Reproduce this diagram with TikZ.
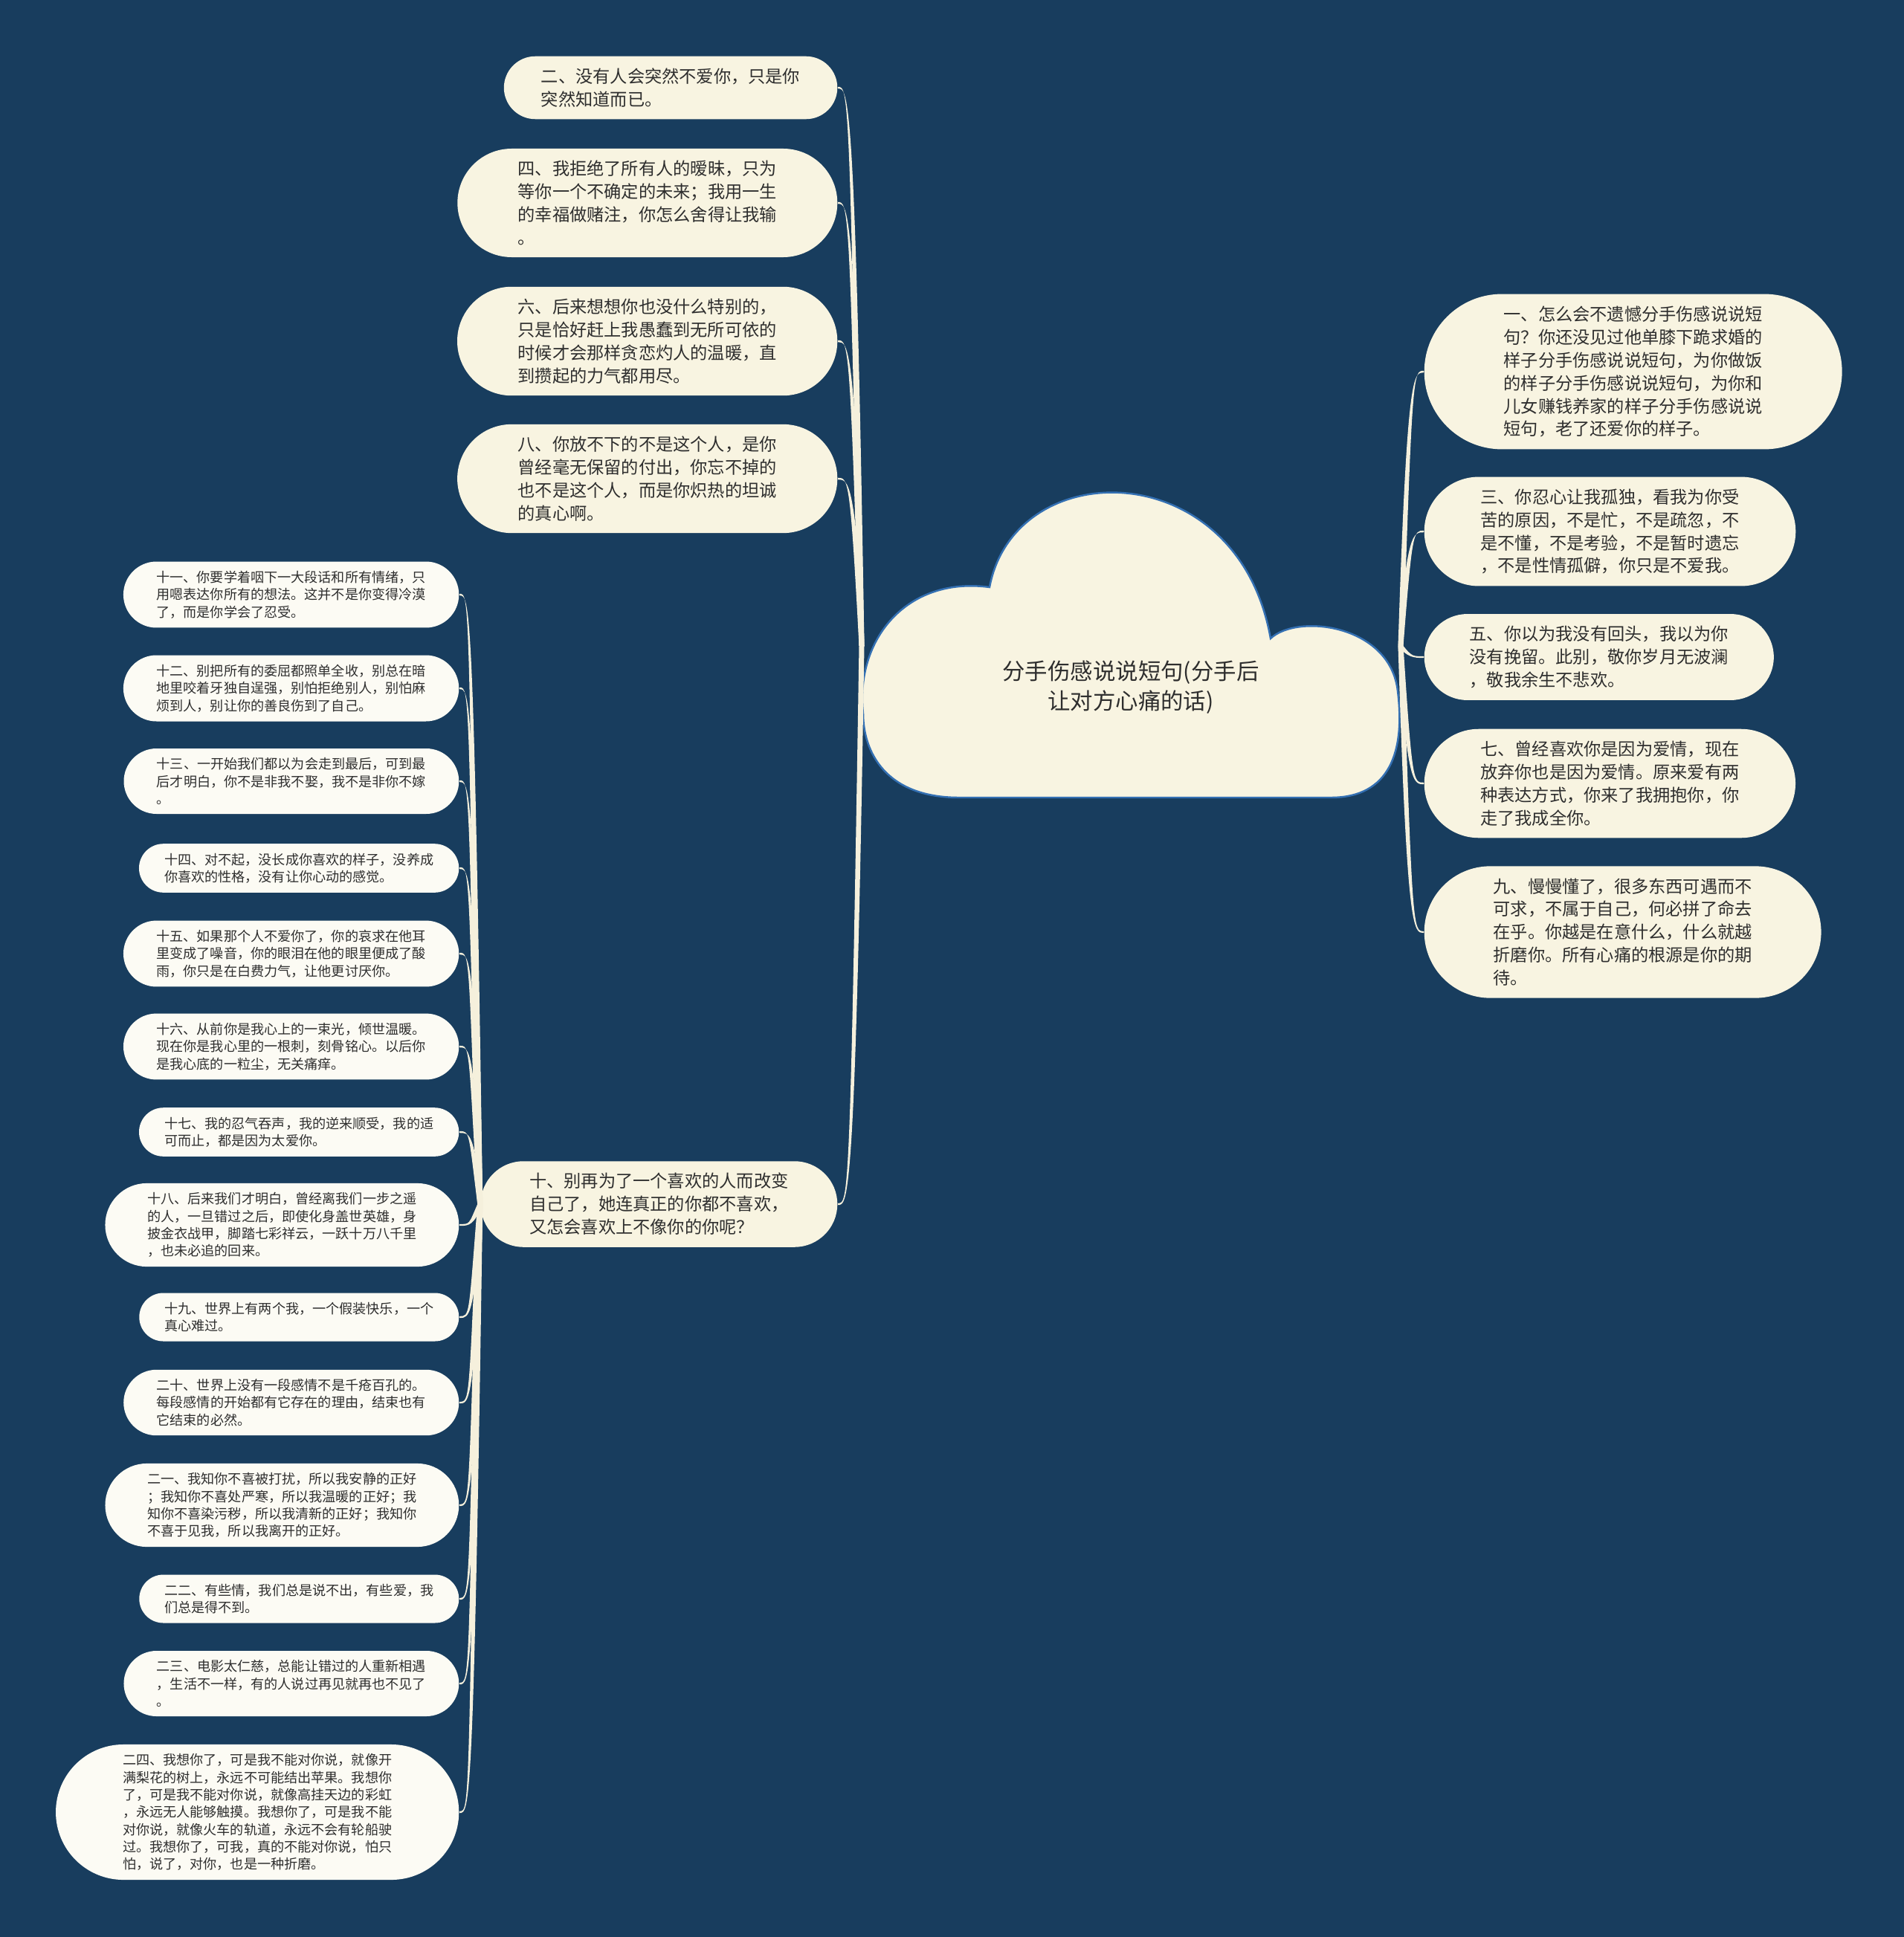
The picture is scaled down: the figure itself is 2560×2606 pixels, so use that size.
\documentclass[tikz,border=0pt]{standalone}
\usepackage{fontspec}
\newfontfamily\cjkfont{Noto Sans CJK SC}
\usetikzlibrary{calc,shapes.misc}

\begin{document}
\begin{tikzpicture}[x=0.01cm,y=-0.01cm,font=\cjkfont]
  \definecolor{night}{HTML}{183D5E}
  \definecolor{paper}{HTML}{F8F4E1}
  \definecolor{chalk}{HTML}{FCFBF4}
  \definecolor{thread}{HTML}{F5F0DC}
  \definecolor{rim}{HTML}{3470B3}
  \definecolor{ink}{HTML}{2E2E2E}
  \path[use as bounding box] (0,0) rectangle (2560,2606);
  \fill[night] (-8,-8) rectangle (2568,2614);

  \tikzset{topic/.style={rounded rectangle,fill=paper,text=ink,align=left,
             inner xsep=#1,inner ysep=0.16cm,font=\cjkfont\fontsize{6.6pt}{8.8pt}\selectfont},
           leaf/.style={rounded rectangle,fill=chalk,text=ink,align=left,
             inner xsep=#1,inner ysep=0.125cm,font=\cjkfont\fontsize{5.15pt}{6.63pt}\selectfont},
           % tapered ribbons: wide at the parent, thin at the child
           lbranch/.style={fill=thread,to path={-- ($(\tikztostart)+(-3.5,0)$)
             .. controls ($(\tikztostart |- \tikztotarget)+(-15.5,0)$) and ($(\tikztotarget)+(14,-1.2)$) .. ($(\tikztotarget)+(0,-1.2)$)
             -- ($(\tikztotarget)+(0,1.2)$)
             .. controls ($(\tikztotarget)+(14,1.2)$) and ($(\tikztostart |- \tikztotarget)+(-8.5,0)$) .. ($(\tikztostart)+(3.5,0)$) -- cycle}},
           rbranch/.style={fill=thread,to path={-- ($(\tikztostart)+(3.5,0)$)
             .. controls ($(\tikztostart |- \tikztotarget)+(15.5,0)$) and ($(\tikztotarget)+(-14,-1.2)$) .. ($(\tikztotarget)+(0,-1.2)$)
             -- ($(\tikztotarget)+(0,1.2)$)
             .. controls ($(\tikztotarget)+(-14,1.2)$) and ($(\tikztostart |- \tikztotarget)+(8.5,0)$) .. ($(\tikztostart)+(-3.5,0)$) -- cycle}}}

  % The cloud is drawn as one closed path, the title sits on top of it.
  \draw[fill=paper,draw=rim,line width=0.7pt] (1290,1073)
    .. controls (1190,1073) and (1161,1010) .. (1161,960)
    .. controls (1150,860) and (1220,775) .. (1331,790)
    .. controls (1365,610) and (1665,610) .. (1709,859)
    .. controls (1745,825) and (1870,840) .. (1880,930)
    .. controls (1890,1010) and (1870,1073) .. (1790,1073) -- cycle;
  \node[align=center,text=ink,font=\cjkfont\fontsize{8.65pt}{11.4pt}\selectfont] (root) at (1521,925)
    {分手伤感说说短句(分手后\\让对方心痛的话)};
  \coordinate (rootL) at (1159,869);
  \coordinate (rootR) at (1884,869);

  \node[topic=0.41cm,anchor=east] (l2) at (1127,118) {二、没有人会突然不爱你，只是你\\突然知道而已。};
  \node[topic=0.54cm,anchor=east] (l4) at (1127,273) {四、我拒绝了所有人的暧昧，只为\\等你一个不确定的未来；我用一生\\的幸福做赌注，你怎么舍得让我输\\。};
  \node[topic=0.54cm,anchor=east] (l6) at (1127,459) {六、后来想想你也没什么特别的，\\只是恰好赶上我愚蠢到无所可依的\\时候才会那样贪恋灼人的温暖，直\\到攒起的力气都用尽。};
  \node[topic=0.54cm,anchor=east] (l8) at (1127,644) {八、你放不下的不是这个人，是你\\曾经毫无保留的付出，你忘不掉的\\也不是这个人，而是你炽热的坦诚\\的真心啊。};
  \node[topic=0.48cm,anchor=east] (l10) at (1127,1620) {十、别再为了一个喜欢的人而改变\\自己了，她连真正的你都不喜欢，\\又怎会喜欢上不像你的你呢？};

  \node[topic=0.58cm,anchor=west] (r1) at (1915,500) {一、怎么会不遗憾分手伤感说说短\\句？你还没见过他单膝下跪求婚的\\样子分手伤感说说短句，为你做饭\\的样子分手伤感说说短句，为你和\\儿女赚钱养家的样子分手伤感说说\\短句，老了还爱你的样子。};
  \node[topic=0.48cm,anchor=west] (r3) at (1915,715) {三、你忍心让我孤独，看我为你受\\苦的原因，不是忙，不是疏忽，不\\是不懂，不是考验，不是暂时遗忘\\，不是性情孤僻，你只是不爱我。};
  \node[topic=0.43cm,anchor=west] (r5) at (1915,884) {五、你以为我没有回头，我以为你\\没有挽留。此别，敬你岁月无波澜\\，敬我余生不悲欢。};
  \node[topic=0.48cm,anchor=west] (r7) at (1915,1054) {七、曾经喜欢你是因为爱情，现在\\放弃你也是因为爱情。原来爱有两\\种表达方式，你来了我拥抱你，你\\走了我成全你。};
  \node[topic=0.55cm,anchor=west] (r9) at (1915,1254) {九、慢慢懂了，很多东西可遇而不\\可求，不属于自己，何必拼了命去\\在乎。你越是在意什么，什么就越\\折磨你。所有心痛的根源是你的期\\待。};

  \node[leaf=0.31cm,anchor=east] (c11) at (618,800) {十一、你要学着咽下一大段话和所有情绪，只\\用嗯表达你所有的想法。这并不是你变得冷漠\\了，而是你学会了忍受。};
  \node[leaf=0.31cm,anchor=east] (c12) at (618,926) {十二、别把所有的委屈都照单全收，别总在暗\\地里咬着牙独自逞强，别怕拒绝别人，别怕麻\\烦到人，别让你的善良伤到了自己。};
  \node[leaf=0.31cm,anchor=east] (c13) at (618,1051) {十三、一开始我们都以为会走到最后，可到最\\后才明白，你不是非我不娶，我不是非你不嫁\\。};
  \node[leaf=0.27cm,anchor=east] (c14) at (618,1168) {十四、对不起，没长成你喜欢的样子，没养成\\你喜欢的性格，没有让你心动的感觉。};
  \node[leaf=0.31cm,anchor=east] (c15) at (618,1283) {十五、如果那个人不爱你了，你的哀求在他耳\\里变成了噪音，你的眼泪在他的眼里便成了酸\\雨，你只是在白费力气，让他更讨厌你。};
  \node[leaf=0.31cm,anchor=east] (c16) at (618,1408) {十六、从前你是我心上的一束光，倾世温暖。\\现在你是我心里的一根刺，刻骨铭心。以后你\\是我心底的一粒尘，无关痛痒。};
  \node[leaf=0.27cm,anchor=east] (c17) at (618,1523) {十七、我的忍气吞声，我的逆来顺受，我的适\\可而止，都是因为太爱你。};
  \node[leaf=0.36cm,anchor=east] (c18) at (618,1648) {十八、后来我们才明白，曾经离我们一步之遥\\的人，一旦错过之后，即使化身盖世英雄，身\\披金衣战甲，脚踏七彩祥云，一跃十万八千里\\，也未必追的回来。};
  \node[leaf=0.27cm,anchor=east] (c19) at (618,1772) {十九、世界上有两个我，一个假装快乐，一个\\真心难过。};
  \node[leaf=0.31cm,anchor=east] (c20) at (618,1887) {二十、世界上没有一段感情不是千疮百孔的。\\每段感情的开始都有它存在的理由，结束也有\\它结束的必然。};
  \node[leaf=0.36cm,anchor=east] (c21) at (618,2025) {二一、我知你不喜被打扰，所以我安静的正好\\；我知你不喜处严寒，所以我温暖的正好；我\\知你不喜染污秽，所以我清新的正好；我知你\\不喜于见我，所以我离开的正好。};
  \node[leaf=0.27cm,anchor=east] (c22) at (618,2151) {二二、有些情，我们总是说不出，有些爱，我\\们总是得不到。};
  \node[leaf=0.31cm,anchor=east] (c23) at (618,2265) {二三、电影太仁慈，总能让错过的人重新相遇\\，生活不一样，有的人说过再见就再也不见了\\。};
  \node[leaf=0.45cm,anchor=east] (c24) at (618,2438) {二四、我想你了，可是我不能对你说，就像开\\满梨花的树上，永远不可能结出苹果。我想你\\了，可是我不能对你说，就像高挂天边的彩虹\\，永远无人能够触摸。我想你了，可是我不能\\对你说，就像火车的轨道，永远不会有轮船驶\\过。我想你了，可我，真的不能对你说，怕只\\怕，说了，对你，也是一种折磨。};

  \path[lbranch] (rootL) to (l2.east);
  \path[lbranch] (rootL) to (l4.east);
  \path[lbranch] (rootL) to (l6.east);
  \path[lbranch] (rootL) to (l8.east);
  \path[lbranch] (rootL) to (l10.east);
  \path[rbranch] (rootR) to (r1.west);
  \path[rbranch] (rootR) to (r3.west);
  \path[rbranch] (rootR) to (r5.west);
  \path[rbranch] (rootR) to (r7.west);
  \path[rbranch] (rootR) to (r9.west);
  \path[lbranch] (l10.west) to (c11.east);
  \path[lbranch] (l10.west) to (c12.east);
  \path[lbranch] (l10.west) to (c13.east);
  \path[lbranch] (l10.west) to (c14.east);
  \path[lbranch] (l10.west) to (c15.east);
  \path[lbranch] (l10.west) to (c16.east);
  \path[lbranch] (l10.west) to (c17.east);
  \path[lbranch] (l10.west) to (c18.east);
  \path[lbranch] (l10.west) to (c19.east);
  \path[lbranch] (l10.west) to (c20.east);
  \path[lbranch] (l10.west) to (c21.east);
  \path[lbranch] (l10.west) to (c22.east);
  \path[lbranch] (l10.west) to (c23.east);
  \path[lbranch] (l10.west) to (c24.east);
\end{tikzpicture}
\end{document}
